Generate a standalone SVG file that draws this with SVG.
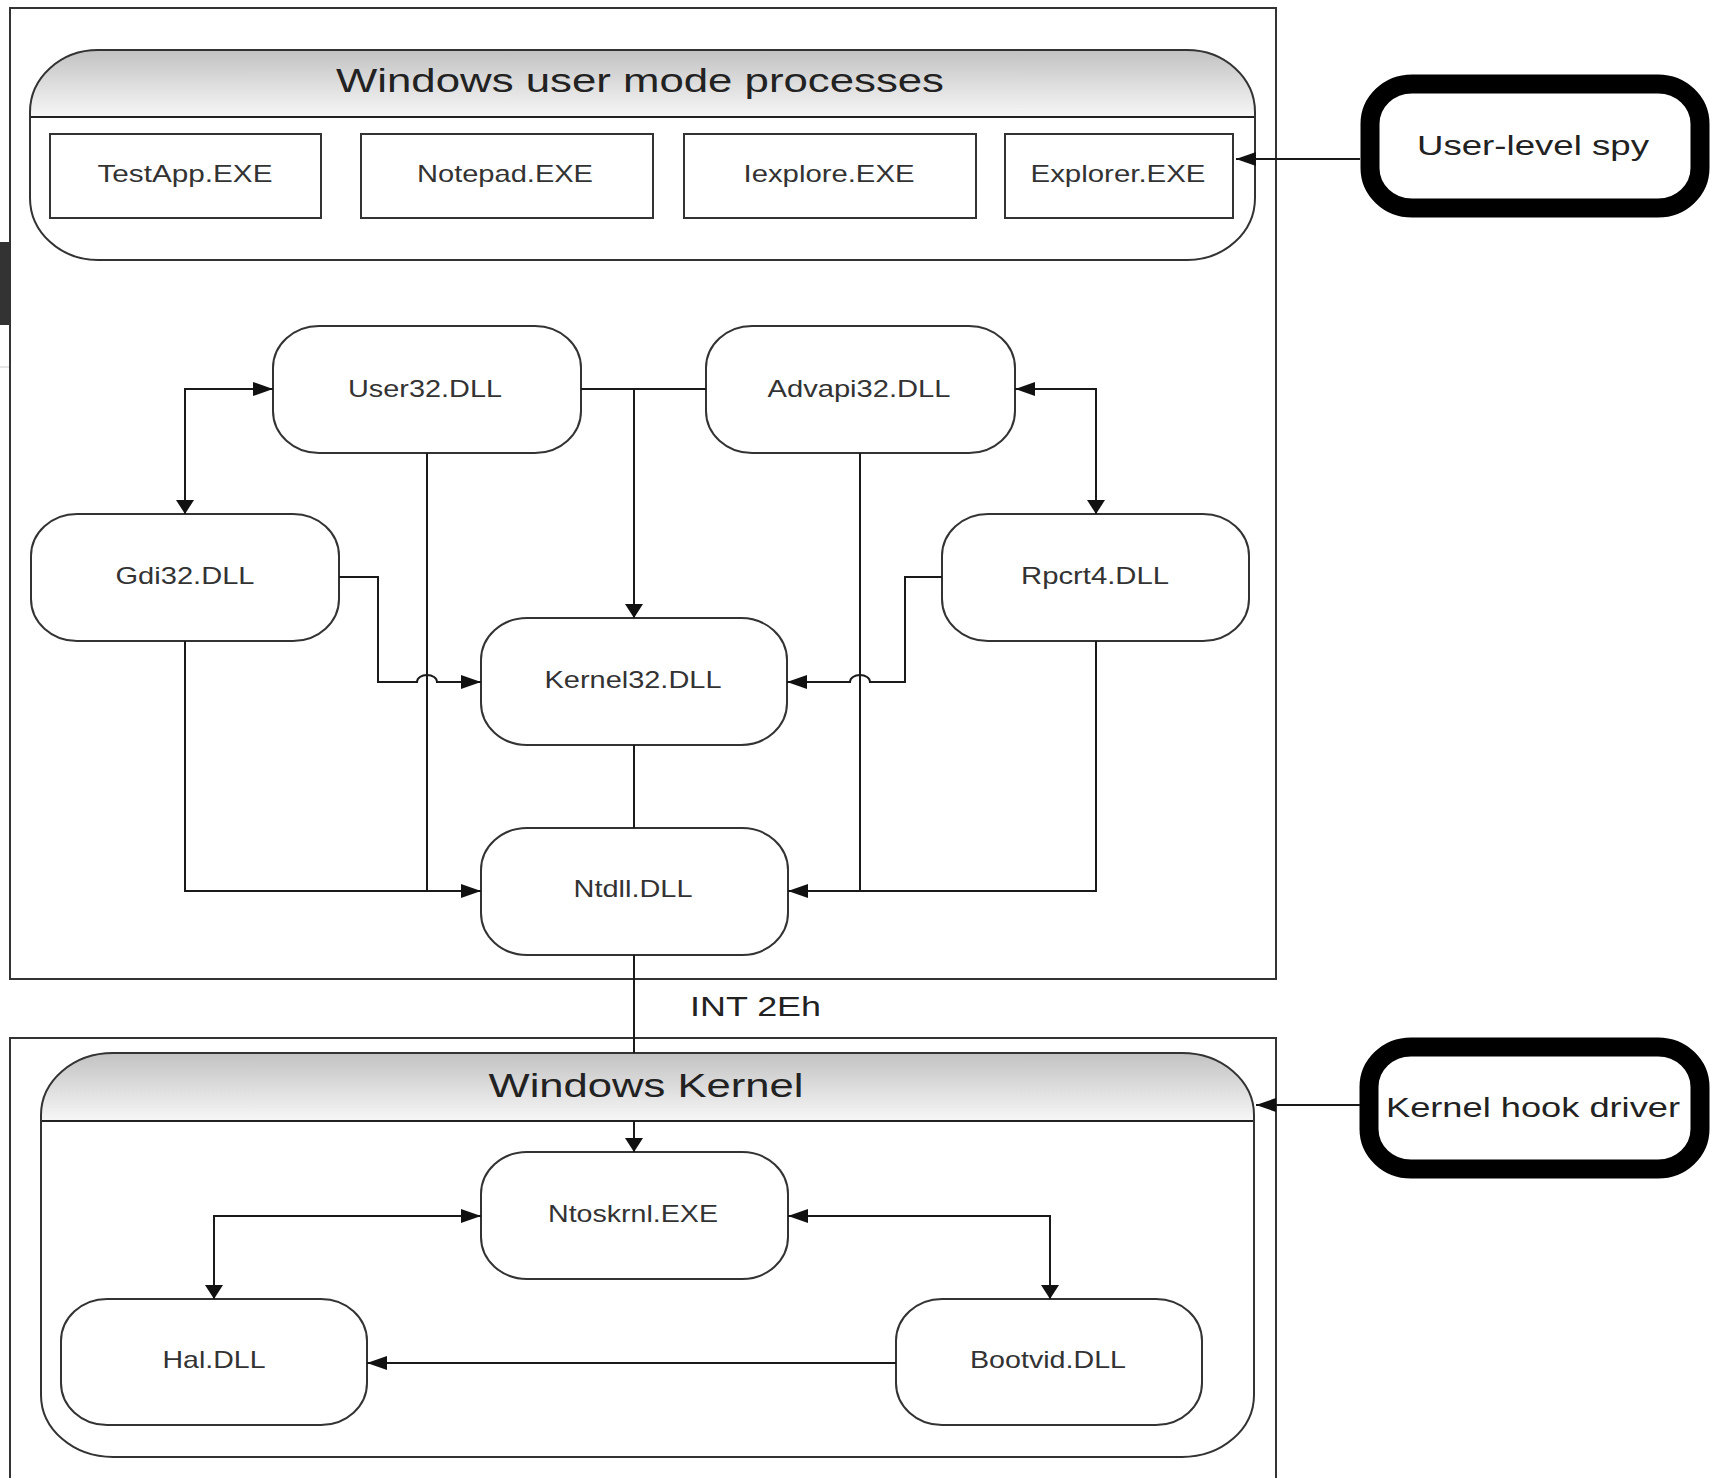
<svg xmlns="http://www.w3.org/2000/svg" width="1710" height="1478" viewBox="0 0 1710 1478">
  <defs>
    <linearGradient id="hdr" x1="0" y1="0" x2="0" y2="1">
      <stop offset="0" stop-color="#c2c2c2"/>
      <stop offset="1" stop-color="#f7f7f7"/>
    </linearGradient>
    <marker id="ah" viewBox="0 0 20 14" refX="20" refY="7" markerWidth="20" markerHeight="14" markerUnits="userSpaceOnUse" orient="auto-start-reverse">
      <path d="M0,0 L20,7 L0,14 Z" fill="#111"/>
    </marker>
    <marker id="av" viewBox="0 0 14 18" refX="14" refY="9" markerWidth="14" markerHeight="18" markerUnits="userSpaceOnUse" orient="auto-start-reverse">
      <path d="M0,0 L14,9 L0,18 Z" fill="#111"/>
    </marker>
  </defs>
  <style>
    text { font-family: "Liberation Sans", Arial, sans-serif; fill: #333; }
    .lbl { font-size: 24px; text-anchor: middle; }
    .title { font-size: 34px; text-anchor: middle; fill: #222; }
    .big { font-size: 28px; fill: #222; }
    .frame { fill: none; stroke: #333; stroke-width: 2; }
    .grp { fill: none; stroke: #333; stroke-width: 2; }
    .proc { fill: #fff; stroke: #333; stroke-width: 2; }
    .dll { fill: #fff; stroke: #333; stroke-width: 2; }
    .hook { fill: #fff; stroke: #000; stroke-width: 19; }
    .conn path { fill: none; stroke: #1a1a1a; stroke-width: 2; }
  </style>
  <rect width="1710" height="1478" fill="#fff"/>

  <!-- artifacts at left edge -->
  <rect x="0" y="242" width="9" height="83" fill="#333"/>
  <line x1="0" y1="367" x2="9" y2="367" stroke="#ccc" stroke-width="1"/>

  <!-- outer frames -->
  <rect class="frame" x="10" y="8" width="1266" height="971"/>
  <rect class="frame" x="10" y="1038" width="1266" height="460"/>

  <!-- user mode group -->
  <g id="user-mode-group">
    <rect x="30" y="50" width="1225" height="210" rx="68" ry="62" fill="#fff"/>
    <path d="M30,117 V112 A68,62 0 0 1 98,50 H1187 A68,62 0 0 1 1255,112 V117 Z" fill="url(#hdr)"/>
    <line x1="30" y1="117" x2="1255" y2="117" stroke="#222" stroke-width="2"/>
    <rect class="grp" x="30" y="50" width="1225" height="210" rx="68" ry="62"/>
    <text class="title" x="640" y="92" textLength="608" lengthAdjust="spacingAndGlyphs">Windows user mode processes</text>
  </g>

  <g id="testapp"><rect class="proc" x="50" y="134" width="271" height="84"/><text class="lbl" x="185" y="182" textLength="175" lengthAdjust="spacingAndGlyphs">TestApp.EXE</text></g>
  <g id="notepad"><rect class="proc" x="361" y="134" width="292" height="84"/><text class="lbl" x="505" y="182" textLength="176" lengthAdjust="spacingAndGlyphs">Notepad.EXE</text></g>
  <g id="iexplore"><rect class="proc" x="684" y="134" width="292" height="84"/><text class="lbl" x="829" y="182" textLength="171" lengthAdjust="spacingAndGlyphs">Iexplore.EXE</text></g>
  <g id="explorer"><rect class="proc" x="1005" y="134" width="228" height="84"/><text class="lbl" x="1118" y="182" textLength="175" lengthAdjust="spacingAndGlyphs">Explorer.EXE</text></g>

  <g id="user-level-spy">
    <rect class="hook" x="1370" y="84" width="330" height="124" rx="42" ry="40"/>
    <text class="big" x="1533" y="155" text-anchor="middle" textLength="232" lengthAdjust="spacingAndGlyphs">User-level spy</text>
  </g>

  <!-- DLL nodes -->
  <g id="user32"><rect class="dll" x="273" y="326" width="308" height="127" rx="46" ry="42"/><text class="lbl" x="425" y="397" textLength="154" lengthAdjust="spacingAndGlyphs">User32.DLL</text></g>
  <g id="advapi32"><rect class="dll" x="706" y="326" width="309" height="127" rx="46" ry="42"/><text class="lbl" x="859" y="397" textLength="183" lengthAdjust="spacingAndGlyphs">Advapi32.DLL</text></g>
  <g id="gdi32"><rect class="dll" x="31" y="514" width="308" height="127" rx="46" ry="42"/><text class="lbl" x="185" y="584" textLength="139" lengthAdjust="spacingAndGlyphs">Gdi32.DLL</text></g>
  <g id="rpcrt4"><rect class="dll" x="942" y="514" width="307" height="127" rx="46" ry="42"/><text class="lbl" x="1095" y="584" textLength="148" lengthAdjust="spacingAndGlyphs">Rpcrt4.DLL</text></g>
  <g id="kernel32"><rect class="dll" x="481" y="618" width="306" height="127" rx="46" ry="42"/><text class="lbl" x="633" y="688" textLength="177" lengthAdjust="spacingAndGlyphs">Kernel32.DLL</text></g>
  <g id="ntdll"><rect class="dll" x="481" y="828" width="307" height="127" rx="46" ry="42"/><text class="lbl" x="633" y="897" textLength="119" lengthAdjust="spacingAndGlyphs">Ntdll.DLL</text></g>

  <text id="int2eh" class="big" x="690" y="1016" textLength="131" lengthAdjust="spacingAndGlyphs">INT 2Eh</text>

  <!-- kernel group -->
  <g id="kernel-group">
    <rect x="41" y="1053" width="1213" height="404" rx="72" ry="62" fill="#fff"/>
    <path d="M41,1121 V1115 A72,62 0 0 1 113,1053 H1182 A72,62 0 0 1 1254,1115 V1121 Z" fill="url(#hdr)"/>
    <line x1="41" y1="1121" x2="1254" y2="1121" stroke="#222" stroke-width="2"/>
    <rect class="grp" x="41" y="1053" width="1213" height="404" rx="72" ry="62"/>
    <text class="title" x="646" y="1097" textLength="315" lengthAdjust="spacingAndGlyphs">Windows Kernel</text>
  </g>

  <g id="ntoskrnl"><rect class="dll" x="481" y="1152" width="307" height="127" rx="46" ry="42"/><text class="lbl" x="633" y="1222" textLength="170" lengthAdjust="spacingAndGlyphs">Ntoskrnl.EXE</text></g>
  <g id="hal"><rect class="dll" x="61" y="1299" width="306" height="126" rx="46" ry="42"/><text class="lbl" x="214" y="1368" textLength="103" lengthAdjust="spacingAndGlyphs">Hal.DLL</text></g>
  <g id="bootvid"><rect class="dll" x="896" y="1299" width="306" height="126" rx="46" ry="42"/><text class="lbl" x="1048" y="1368" textLength="156" lengthAdjust="spacingAndGlyphs">Bootvid.DLL</text></g>

  <g id="kernel-hook-driver">
    <rect class="hook" x="1369" y="1047" width="331" height="122" rx="42" ry="40"/>
    <text class="big" x="1533" y="1117" text-anchor="middle" textLength="294" lengthAdjust="spacingAndGlyphs">Kernel hook driver</text>
  </g>

  <!-- connectors -->
  <g id="connectors" class="conn">
    <path d="M273,389 H185 V514" marker-start="url(#ah)" marker-end="url(#av)"/>
    <path d="M581,389 H706"/>
    <path d="M634,389 V618" marker-end="url(#av)"/>
    <path d="M1015,389 H1096 V514" marker-start="url(#ah)" marker-end="url(#av)"/>
    <path d="M339,577 H378 V682 H417 A10,7 0 0 1 437,682 H481" marker-end="url(#ah)"/>
    <path d="M942,577 H905 V682 H870 A10,7 0 0 0 850,682 H787" marker-end="url(#ah)"/>
    <path d="M185,641 V891 H481" marker-end="url(#ah)"/>
    <path d="M427,453 V891"/>
    <path d="M634,745 V828"/>
    <path d="M860,453 V891"/>
    <path d="M1096,641 V891 H788" marker-end="url(#ah)"/>
    <path d="M634,955 V1053 M634,1121 V1152" marker-end="url(#av)"/>
    <path d="M481,1216 H214 V1299" marker-start="url(#ah)" marker-end="url(#av)"/>
    <path d="M788,1216 H1050 V1299" marker-start="url(#ah)" marker-end="url(#av)"/>
    <path d="M896,1363 H367" marker-end="url(#ah)"/>
    <path d="M1360,159 H1236" marker-end="url(#ah)"/>
    <path d="M1360,1105 H1256" marker-end="url(#ah)"/>
  </g>
</svg>
